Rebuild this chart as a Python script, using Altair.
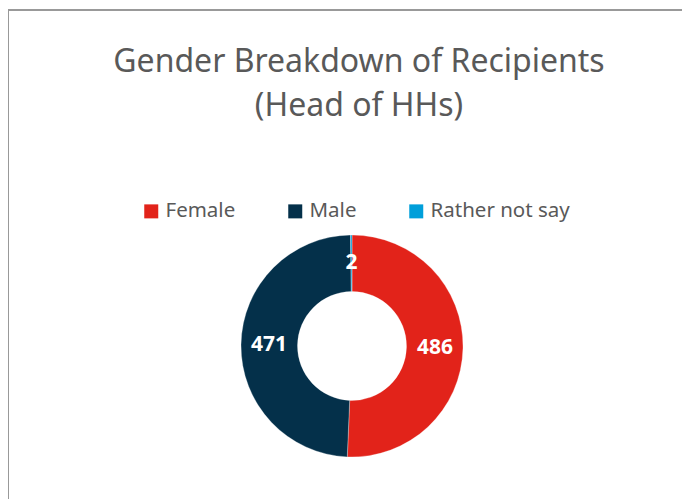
import altair as alt
import pandas as pd

categories = ["Female", "Male", "Rather not say"]
values = [486, 471, 2]
colors = ["#E2231A", "#04304A", "#009FDA"]
title_lines = ["Gender Breakdown of Recipients", "(Head of HHs)"]

W, H = 674, 489
CX, CY = 344, 336

df = pd.DataFrame({"category": categories, "value": values, "idx": list(range(len(categories)))})
one = pd.DataFrame({"a": [0]})

base = alt.Chart(df).encode(
    theta=alt.Theta("value:Q", stack=True),
    order=alt.Order("idx:Q"),
)

arcs = base.mark_arc(innerRadius=54.5, outerRadius=111, stroke="white", strokeWidth=0.3).encode(
    x=alt.value(CX),
    y=alt.value(CY),
    color=alt.Color(
        "category:N",
        scale=alt.Scale(domain=categories, range=colors),
        sort=categories,
        legend=alt.Legend(
            title=None,
            orient="none",
            direction="horizontal",
            legendX=133,
            legendY=191,
            symbolType="square",
            symbolSize=196,
            symbolStrokeWidth=0,
            labelFont="Noto Sans",
            labelFontSize=20.5,
            labelColor="#595959",
            labelOffset=4,
            columnPadding=49,
            padding=0,
            labelLimit=300,
        ),
    ),
)

labels = base.mark_text(
    radius=83, font="Noto Sans", fontSize=21, fontWeight="bold", color="white"
).encode(
    x=alt.value(CX),
    y=alt.value(CY),
    text=alt.Text("value:Q"),
)

title = alt.Chart(one).mark_text(
    text=title_lines,
    font="Noto Sans",
    fontSize=32,
    color="#595959",
    align="center",
    baseline="alphabetic",
    lineHeight=44,
).encode(x=alt.value(351), y=alt.value(62))

border_left = alt.Chart(one).mark_rule(color="#999999", strokeWidth=2).encode(
    x=alt.value(0), y=alt.value(0), y2=alt.value(H + 30)
)
border_top = alt.Chart(one).mark_rule(color="#999999", strokeWidth=2).encode(
    y=alt.value(0), x=alt.value(0), x2=alt.value(W + 20)
)

chart = alt.layer(border_left, border_top, arcs, labels, title).properties(
    width=W,
    height=H,
    autosize=alt.AutoSizeParams(type="none"),
    padding={"left": 0, "top": 2, "right": 0, "bottom": 0},
).configure_view(stroke=None)

chart.save("out.html", embed_options={"renderer": "svg", "actions": False})
